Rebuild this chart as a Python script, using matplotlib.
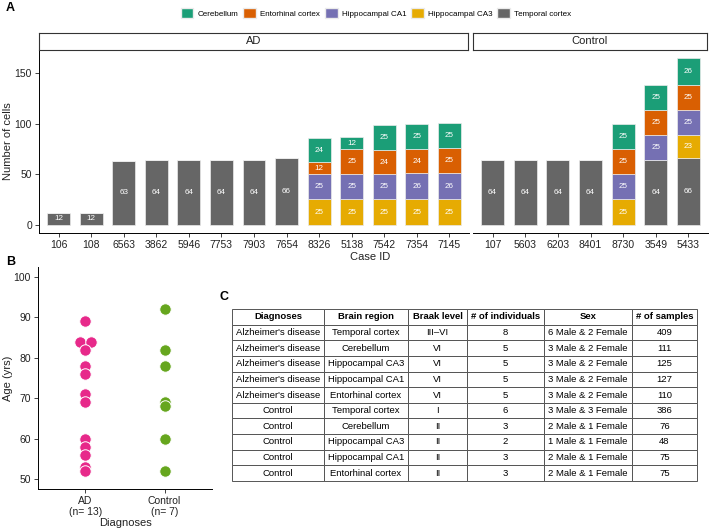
import matplotlib
matplotlib.use("Agg")
import matplotlib.pyplot as plt
from matplotlib.patches import Patch
import numpy as np

plt.rcParams['font.family'] = ['Liberation Sans', 'DejaVu Sans']

# panel A data
ad_cases = ['106', '108', '6563', '3862', '5946', '7753', '7903', '7654', '8326', '5138', '7542', '7354', '7145']
ctrl_cases = ['107', '5603', '6203', '8401', '8730', '3549', '5433']
tissues = ['Temporal cortex', 'Hippocampal CA3', 'Hippocampal CA1', 'Entorhinal cortex', 'Cerebellum']
tissue_colors = {'Cerebellum': '#1B9E77', 'Entorhinal cortex': '#D95F02', 'Hippocampal CA1': '#7570B3',
                 'Hippocampal CA3': '#E6AB02', 'Temporal cortex': '#666666'}
ad_counts = {
    'Temporal cortex':   [12, 12, 63, 64, 64, 64, 64, 66, 0, 0, 0, 0, 0],
    'Hippocampal CA3':   [0, 0, 0, 0, 0, 0, 0, 0, 25, 25, 25, 25, 25],
    'Hippocampal CA1':   [0, 0, 0, 0, 0, 0, 0, 0, 25, 25, 25, 26, 26],
    'Entorhinal cortex': [0, 0, 0, 0, 0, 0, 0, 0, 12, 25, 24, 24, 25],
    'Cerebellum':        [0, 0, 0, 0, 0, 0, 0, 0, 24, 12, 25, 25, 25],
}
ctrl_counts = {
    'Temporal cortex':   [64, 64, 64, 64, 0, 64, 66],
    'Hippocampal CA3':   [0, 0, 0, 0, 25, 0, 23],
    'Hippocampal CA1':   [0, 0, 0, 0, 25, 25, 25],
    'Entorhinal cortex': [0, 0, 0, 0, 25, 25, 25],
    'Cerebellum':        [0, 0, 0, 0, 25, 25, 26],
}

# panel B data
ad_ages = [89, 84, 84, 82, 78, 76, 71, 69, 60, 58, 56, 53, 52]
ctrl_ages = [92, 82, 78, 69, 68, 60, 52]
diag_labels = ['AD\n(n= 13)', 'Control\n(n= 7)']
diag_colors = ['#E7298A', '#66A61E']

# panel C data
col_labels = ['Diagnoses', 'Brain region', 'Braak level', '# of individuals', 'Sex', '# of samples']
diagnoses = ["Alzheimer's disease"] * 5 + ['Control'] * 5
regions = ['Temporal cortex', 'Cerebellum', 'Hippocampal CA3', 'Hippocampal CA1', 'Entorhinal cortex'] * 2
braak = ['III\u2013VI', 'VI', 'VI', 'VI', 'VI', 'I', 'II', 'II', 'II', 'II']
n_indiv = [8, 5, 5, 5, 5, 6, 3, 2, 3, 3]
sex = ['6 Male & 2 Female', '3 Male & 2 Female', '3 Male & 2 Female', '3 Male & 2 Female', '3 Male & 2 Female',
       '3 Male & 3 Female', '2 Male & 1 Female', '1 Male & 1 Female', '2 Male & 1 Female', '2 Male & 1 Female']
n_samples = [409, 111, 125, 127, 110, 386, 76, 48, 75, 75]

W, H = 709, 529
fig = plt.figure(figsize=(W / 100, H / 100), dpi=100)
axis_col = '#222222'


def box(x0, y0, x1, y1):
    return [x0 / W, 1 - y1 / H, (x1 - x0) / W, (y1 - y0) / H]


def ftext(x, y, s, **kw):
    kw.setdefault('ha', 'center')
    kw.setdefault('va', 'center')
    kw.setdefault('fontsize', 8)
    kw.setdefault('color', axis_col)
    fig.text(x / W, 1 - y / H, s, **kw)


def style(ax):
    for s in ['top', 'right']:
        ax.spines[s].set_visible(False)
    for s in ['left', 'bottom']:
        ax.spines[s].set_linewidth(0.7)
        ax.spines[s].set_color('black')
    ax.tick_params(labelsize=7.5, colors=axis_col, length=3, width=0.6, pad=2)


def bars(ax, cases, counts, ymax):
    x = np.arange(len(cases))
    bottom = np.zeros(len(cases))
    for t in tissues:
        v = np.array(counts[t], dtype=float)
        ax.bar(x, v, bottom=bottom, width=0.7, color=tissue_colors[t], edgecolor='#ebebeb', linewidth=0.5)
        for xi, vi, bi in zip(x, v, bottom):
            if vi > 0:
                ax.text(xi, bi + vi / 2, str(int(vi)), ha='center', va='center', color='white', fontsize=5.8)
        bottom += v
    ax.set_xticks(x)
    ax.set_xticklabels(cases)
    ax.set_xlim(-0.6, len(cases) - 0.4)
    ax.set_ylim(-8.25, ymax)
    style(ax)


ymax = 173.25
ax1 = fig.add_axes(box(39, 50, 469, 233))
bars(ax1, ad_cases, ad_counts, ymax)
ax1.set_yticks([0, 50, 100, 150])

ax2 = fig.add_axes(box(473, 50, 708, 233))
bars(ax2, ctrl_cases, ctrl_counts, ymax)
ax2.spines['left'].set_visible(False)
ax2.set_yticks([])

for (x0, x1), name in [((39, 469), 'AD'), ((473, 708), 'Control')]:
    sa = fig.add_axes(box(x0, 33, x1 - 1, 50))
    sa.set_xticks([])
    sa.set_yticks([])
    for s in sa.spines.values():
        s.set_linewidth(0.8)
        s.set_color('#333333')
    sa.text(0.5, 0.5, name, ha='center', va='center', fontsize=8, color=axis_col, transform=sa.transAxes)

ftext(8, 141, 'Number of cells', rotation=90)
ftext(370, 257, 'Case ID')

handles = [Patch(facecolor=tissue_colors[t], edgecolor='#ebebeb', label=t)
           for t in ['Cerebellum', 'Entorhinal cortex', 'Hippocampal CA1', 'Hippocampal CA3', 'Temporal cortex']]
fig.legend(handles=handles, loc='center', bbox_to_anchor=(376 / W, 1 - 13 / H), ncol=5, frameon=False,
           fontsize=5.8, handlelength=1.6, handleheight=1.6, columnspacing=0.6, handletextpad=0.5)

# panel B
axb = fig.add_axes(box(38, 267, 212, 489))
for i, (ages, col) in enumerate(zip([ad_ages, ctrl_ages], diag_colors)):
    ages = np.array(ages)
    xs = np.full(len(ages), i + 1.0)
    for v in np.unique(ages):
        idx = np.where(ages == v)[0]
        if len(idx) > 1:
            xs[idx] += (np.arange(len(idx)) - (len(idx) - 1) / 2) * 0.14
    axb.scatter(xs, ages, s=68, color=col, edgecolor='white', linewidth=0.7, zorder=3)
axb.set_xlim(0.4, 2.6)
axb.set_ylim(47.5, 102.5)
axb.set_xticks([1, 2])
axb.set_xticklabels(diag_labels, linespacing=1.1)
axb.set_yticks([50, 60, 70, 80, 90, 100])
style(axb)
ftext(8, 378, 'Age (yrs)', rotation=90)
ftext(125, 523, 'Diagnoses')

# panel C table
axc = fig.add_axes(box(232, 309, 697, 481))
axc.axis('off')
rows = [[d, r, b, str(n), s, str(m)] for d, r, b, n, s, m in
        zip(diagnoses, regions, braak, n_indiv, sex, n_samples)]
widths = np.array([92, 84, 59, 77, 88, 65], dtype=float)
tbl = axc.table(cellText=rows, colLabels=col_labels, cellLoc='center', bbox=[0, 0, 1, 1],
                colWidths=list(widths / widths.sum()))
tbl.auto_set_font_size(False)
tbl.set_fontsize(6.8)
for (r, c), cell in tbl.get_celld().items():
    cell.set_edgecolor('#555555')
    cell.set_linewidth(0.7)
    cell.get_text().set_color('black')
    if r == 0:
        cell.get_text().set_fontweight('bold')

# panel letters
for x, y, s in [(10, 8, 'A'), (11, 262, 'B'), (224, 297, 'C')]:
    ftext(x, y, s, fontsize=9, fontweight='bold', color='black')

fig.savefig('out.png', dpi=100)
